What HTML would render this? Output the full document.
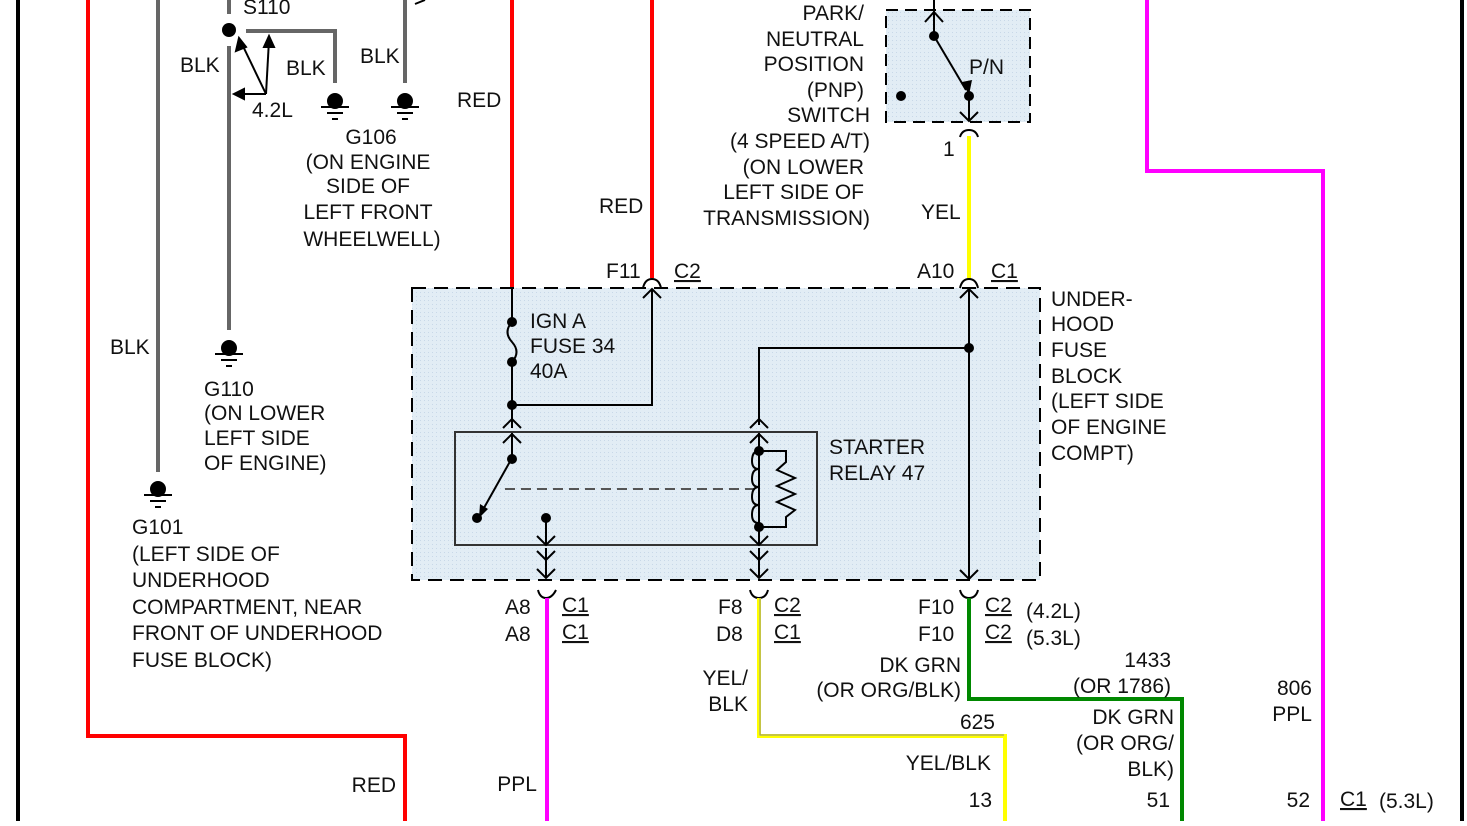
<!DOCTYPE html>
<html><head><meta charset="utf-8"><style>
html,body{margin:0;padding:0;background:#fff}
svg text{font-family:"Liberation Sans",Arial,sans-serif;font-size:21px;fill:#111}
</style></head><body>
<svg width="1467" height="821" xmlns="http://www.w3.org/2000/svg">
<defs>
<pattern id="dots" width="4" height="4" patternUnits="userSpaceOnUse"><rect width="4" height="4" fill="#e2edf5"/><rect width="1" height="1" fill="#c8d8e8"/></pattern>
</defs>
<line x1="18" y1="0" x2="18" y2="821" stroke="#000" stroke-width="4"/>
<line x1="1462" y1="0" x2="1462" y2="821" stroke="#000" stroke-width="4"/>
<polyline points="88,0 88,736 405,736 405,821" fill="none" stroke="#f00" stroke-width="4"/>
<line x1="158" y1="0" x2="158" y2="472" stroke="#666" stroke-width="4"/>
<line x1="229" y1="0" x2="229" y2="14" stroke="#666" stroke-width="4"/>
<line x1="229" y1="46" x2="229" y2="330" stroke="#666" stroke-width="4"/>
<polyline points="246,31 335,31 335,83" fill="none" stroke="#666" stroke-width="4"/>
<line x1="405" y1="0" x2="405" y2="83" stroke="#666" stroke-width="4"/>
<path d="M415,4 L425,0" stroke="#000" stroke-width="2"/>
<circle cx="229" cy="30" r="7" fill="#000"/>
<g stroke="#000" stroke-width="2" fill="#000">
<line x1="266" y1="94" x2="241" y2="42"/><polygon points="239,38 236,51 246,47"/>
<line x1="266" y1="94" x2="269" y2="40"/><polygon points="269,36 264,47 274,47"/>
<line x1="266" y1="94" x2="238" y2="94"/><polygon points="234,94 244,89 244,99"/>
</g>
<g fill="#000" stroke="#000" stroke-width="2">
<circle cx="335" cy="101" r="7"/><line x1="321" y1="107" x2="349" y2="107"/><line x1="327" y1="113" x2="343" y2="113"/><line x1="332" y1="119" x2="338" y2="119"/>
<circle cx="405" cy="101" r="7"/><line x1="391" y1="107" x2="419" y2="107"/><line x1="397" y1="113" x2="413" y2="113"/><line x1="402" y1="119" x2="408" y2="119"/>
<circle cx="229" cy="348" r="7"/><line x1="215" y1="354" x2="243" y2="354"/><line x1="221" y1="360" x2="237" y2="360"/><line x1="226" y1="366" x2="232" y2="366"/>
<circle cx="158" cy="489" r="7"/><line x1="144" y1="495" x2="172" y2="495"/><line x1="150" y1="501" x2="166" y2="501"/><line x1="155" y1="507" x2="161" y2="507"/>
</g>
<line x1="512" y1="0" x2="512" y2="288" stroke="#f00" stroke-width="4"/>
<line x1="652" y1="0" x2="652" y2="278" stroke="#f00" stroke-width="4"/>
<line x1="969" y1="136" x2="969" y2="278" stroke="#ff0" stroke-width="4"/>
<polyline points="1147,0 1147,171 1323,171 1323,821" fill="none" stroke="#f0f" stroke-width="4"/>
<rect x="886" y="10" width="144" height="112" fill="url(#dots)" stroke="#000" stroke-width="2" stroke-dasharray="12,7"/>
<g stroke="#000" stroke-width="2" fill="none">
<line x1="934" y1="0" x2="934" y2="36"/><polyline points="925,22 934,12 943,22"/>
<line x1="934" y1="36" x2="966" y2="90"/>
<line x1="969" y1="95" x2="969" y2="120"/><polyline points="960,112 969,121 978,112"/>
<path d="M960,137 Q962,130 969,130 Q976,130 978,137" />
</g>
<polygon points="969,95 962,82 972,80" fill="#000"/>
<circle cx="934" cy="36" r="5" fill="#000"/><circle cx="969" cy="96" r="5" fill="#000"/><circle cx="901" cy="96" r="5" fill="#000"/>
<rect x="412" y="288" width="628" height="292" fill="url(#dots)" stroke="#000" stroke-width="2" stroke-dasharray="14,8"/>
<g stroke="#000" stroke-width="2" fill="none">
<line x1="512" y1="288" x2="512" y2="322"/>
<path d="M512,322 Q503,332 512,342 Q521,352 512,362"/>
<line x1="512" y1="362" x2="512" y2="428"/>
<polyline points="512,405 652,405 652,290"/><polyline points="643,298 652,289 661,298"/>
<path d="M643,288 Q645,279 652,279 Q659,279 661,288"/>
<line x1="969" y1="290" x2="969" y2="578"/><polyline points="960,298 969,289 978,298"/><polyline points="960,570 969,579 978,570"/>
<path d="M960,288 Q962,279 969,279 Q976,279 978,288"/>
<polyline points="969,348 759,348 759,425"/><polyline points="750,428 759,419 768,428"/>
<polyline points="503,428 512,419 521,428"/>
<rect x="455" y="432" width="362" height="113" stroke="#333"/>
<line x1="512" y1="433" x2="512" y2="458"/><polyline points="503,443 512,434 521,443"/>
<line x1="512" y1="458" x2="480" y2="515"/>
<line x1="505" y1="489" x2="755" y2="489" stroke-dasharray="10,6" stroke="#555"/>
<line x1="546" y1="518" x2="546" y2="545"/><polyline points="537,536 546,545 555,536"/>
<line x1="546" y1="548" x2="546" y2="578"/><polyline points="537,551 546,560 555,551"/><polyline points="537,569 546,578 555,569"/>
<line x1="759" y1="433" x2="759" y2="545"/><polyline points="750,443 759,434 768,443"/><polyline points="750,536 759,545 768,536"/>
<line x1="759" y1="548" x2="759" y2="578"/><polyline points="750,551 759,560 768,551"/><polyline points="750,569 759,578 768,569"/>
<path d="M759,451 q-7,0 -7,10 q0,8 7,8 q-7,0 -7,10 q0,8 7,8 q-7,0 -7,10 q0,8 7,8 q-7,0 -7,10 q0,8 7,8"/>
<polyline points="759,451 786,451 786,462 777,470 795,478 777,486 795,494 777,502 795,510 786,517 786,527 759,527"/>
<path d="M538,590 Q540,598 546,598 Q552,598 556,590"/>
<path d="M750,590 Q752,598 759,598 Q766,598 768,590"/>
<path d="M960,590 Q962,598 969,598 Q976,598 978,590"/>
</g>
<polygon points="479,518 480,504 488,509" fill="#000"/>
<g fill="#000"><circle cx="512" cy="322" r="5"/><circle cx="512" cy="362" r="5"/><circle cx="512" cy="405" r="5"/><circle cx="969" cy="348" r="5"/><circle cx="512" cy="459" r="5"/><circle cx="477" cy="518" r="5"/><circle cx="546" cy="518" r="5"/><circle cx="759" cy="451" r="5"/><circle cx="759" cy="527" r="5"/></g>
<line x1="547" y1="598" x2="547" y2="821" stroke="#f0f" stroke-width="4"/>
<polyline points="759,598 759,736 1005,736 1005,821" fill="none" stroke="#ff0" stroke-width="4"/>
<polyline points="760,598 760,735 1004,735" fill="none" stroke="#888" stroke-width="1"/>
<polyline points="969,598 969,699 1182,699 1182,821" fill="none" stroke="#080" stroke-width="4"/>
<text x="243" y="14">S110</text>
<text x="180" y="72">BLK</text><text x="286" y="75">BLK</text><text x="360" y="63">BLK</text>
<text x="252" y="117">4.2L</text><text x="457" y="107">RED</text>
<g text-anchor="middle"><text x="371" y="144">G106</text><text x="368" y="169">(ON ENGINE</text><text x="368" y="193">SIDE OF</text><text x="368" y="219">LEFT FRONT</text><text x="372" y="246">WHEELWELL)</text></g>
<text x="110" y="354">BLK</text>
<text x="204" y="396">G110</text><text x="204" y="420">(ON LOWER</text><text x="204" y="445">LEFT SIDE</text><text x="204" y="470">OF ENGINE)</text>
<text x="132" y="534">G101</text><text x="132" y="561">(LEFT SIDE OF</text><text x="132" y="587">UNDERHOOD</text><text x="132" y="614">COMPARTMENT, NEAR</text><text x="132" y="640">FRONT OF UNDERHOOD</text><text x="132" y="667">FUSE BLOCK)</text>
<text x="599" y="213">RED</text>
<g text-anchor="end"><text x="864" y="20">PARK/</text><text x="864" y="46">NEUTRAL</text><text x="864" y="71">POSITION</text><text x="864" y="97">(PNP)</text><text x="870" y="122">SWITCH</text><text x="870" y="148">(4 SPEED A/T)</text><text x="864" y="174">(ON LOWER</text><text x="864" y="199">LEFT SIDE OF</text><text x="870" y="225">TRANSMISSION)</text></g>
<text x="969" y="74">P/N</text><text x="943" y="156">1</text><text x="921" y="219">YEL</text>
<text x="606" y="278">F11</text><text x="674" y="278" text-decoration="underline">C2</text>
<text x="917" y="278">A10</text><text x="991" y="278" text-decoration="underline">C1</text>
<text x="1051" y="306">UNDER-</text><text x="1051" y="331">HOOD</text><text x="1051" y="357">FUSE</text><text x="1051" y="383">BLOCK</text><text x="1051" y="408">(LEFT SIDE</text><text x="1051" y="434">OF ENGINE</text><text x="1051" y="460">COMPT)</text>
<text x="530" y="328">IGN A</text><text x="530" y="353">FUSE 34</text><text x="530" y="378">40A</text>
<text x="829" y="454">STARTER</text><text x="829" y="480">RELAY 47</text>
<text x="505" y="614">A8</text><text x="562" y="612" text-decoration="underline">C1</text>
<text x="505" y="641">A8</text><text x="562" y="639" text-decoration="underline">C1</text>
<text x="718" y="614">F8</text><text x="774" y="612" text-decoration="underline">C2</text>
<text x="716" y="641">D8</text><text x="774" y="639" text-decoration="underline">C1</text>
<text x="918" y="614">F10</text><text x="985" y="612" text-decoration="underline">C2</text><text x="1026" y="618">(4.2L)</text>
<text x="918" y="641">F10</text><text x="985" y="639" text-decoration="underline">C2</text><text x="1026" y="645">(5.3L)</text>
<g text-anchor="end"><text x="961" y="672">DK GRN</text><text x="961" y="697">(OR ORG/BLK)</text><text x="748" y="685">YEL/</text><text x="748" y="711">BLK</text>
<text x="1171" y="667">1433</text><text x="1171" y="693">(OR 1786)</text><text x="995" y="729">625</text>
<text x="1174" y="724">DK GRN</text><text x="1174" y="750">(OR ORG/</text><text x="1174" y="776">BLK)</text>
<text x="1312" y="695">806</text><text x="1312" y="721">PPL</text><text x="991" y="770">YEL/BLK</text>
<text x="992" y="807">13</text><text x="1170" y="807">51</text><text x="1310" y="807">52</text>
<text x="396" y="792">RED</text><text x="537" y="791">PPL</text></g>
<text x="1340" y="806" text-decoration="underline">C1</text><text x="1379" y="808">(5.3L)</text>
</svg>
</body></html>
